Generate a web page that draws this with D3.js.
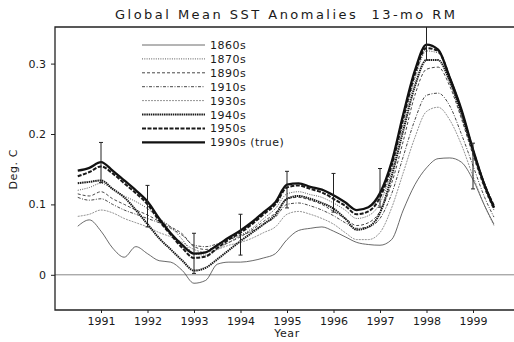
<!DOCTYPE html>
<html lang="en">
<head>
<meta charset="UTF-8">
<title>Global Mean SST Anomalies 13-mo RM</title>
<script src="https://d3js.org/d3.v7.min.js"></script>
<style>
    body { margin: 0; background: #fff; }
    svg text { font-family: 'DejaVu Sans', sans-serif; fill: #1a1a1a; white-space: pre; }
    .tick text { font-size: 11px; }
    .tick line { stroke: #222; }
</style>
</head>
<body>
<svg id="chart" width="514" height="342"></svg>
<script>
// time axis of the running means (quarter-year samples)
const years = [1990.5, 1990.75, 1991, 1991.25, 1991.5, 1991.75, 1992, 1992.25, 1992.5, 1992.75,
    1993, 1993.25, 1993.5, 1993.75, 1994, 1994.25, 1994.5, 1994.75, 1995, 1995.25,
    1995.5, 1995.75, 1996, 1996.25, 1996.5, 1996.75, 1997, 1997.25, 1997.5, 1997.75,
    1998, 1998.25, 1998.5, 1998.75, 1999, 1999.25, 1999.45];

const s1860 = [.069, .078, .062, .038, .025, .040, .030, .020, .018, .006,
    -.012, -.008, .015, .018, .018, .020, .024, .030, .050, .063,
    .066, .068, .062, .054, .046, .043, .042, .050, .092, .128,
    .152, .165, .166, .160, .135, .098, .072];
const s1870 = [.120, .124, .130, .122, .112, .104, .094, .080, .068, .050,
    .030, .028, .036, .046, .056, .066, .080, .094, .115, .118,
    .114, .110, .102, .092, .080, .084, .102, .148, .215, .278,
    .318, .315, .280, .232, .178, .128, .097];
const s1890 = [.115, .112, .118, .108, .100, .092, .085, .076, .068, .058,
    .040, .036, .040, .046, .054, .064, .076, .088, .108, .110,
    .106, .100, .090, .080, .070, .074, .090, .130, .190, .255,
    .292, .295, .268, .222, .170, .122, .092];
const s1910 = [.110, .106, .108, .100, .092, .086, .080, .074, .066, .056,
    .042, .040, .044, .050, .056, .062, .072, .082, .100, .102,
    .098, .092, .084, .074, .066, .068, .080, .115, .168, .220,
    .255, .258, .240, .200, .155, .110, .082];
const s1930 = [.083, .086, .092, .088, .080, .074, .068, .060, .054, .046,
    .036, .032, .036, .042, .046, .052, .060, .068, .086, .090,
    .086, .080, .072, .060, .050, .050, .060, .095, .145, .195,
    .232, .238, .220, .185, .140, .098, .070];
const s1940 = [.130, .132, .134, .122, .110, .092, .072, .052, .036, .020,
    .006, .010, .022, .035, .048, .060, .072, .085, .108, .112,
    .108, .102, .094, .080, .064, .068, .088, .140, .205, .268,
    .305, .305, .275, .228, .175, .127, .095];
const s1950 = [.140, .146, .154, .144, .130, .116, .100, .077, .057, .038,
    .024, .026, .038, .050, .060, .072, .086, .100, .124, .127,
    .122, .117, .108, .098, .086, .090, .110, .155, .222, .285,
    .322, .318, .280, .233, .177, .128, .098];
const s1990 = [.148, .152, .160, .148, .134, .120, .104, .080, .059, .042,
    .030, .032, .042, .053, .063, .075, .089, .103, .128, .130,
    .125, .121, .113, .103, .092, .096, .116, .160, .228, .290,
    .327, .320, .280, .235, .178, .127, .096];

// uncertainty bars on the true series
const barYears = [1991, 1992, 1993, 1994, 1995, 1996, 1997, 1998, 1999];
const barLow = [.131, .068, .002, .028, .095, .089, .096, .305, .122];
const barHigh = [.188, .127, .059, .086, .147, .144, .151, .360, .187];

const legendNames = ["1860s", "1870s", "1890s", "1910s", "1930s", "1940s", "1950s", "1990s (true)"];
const xTicks = [1991, 1992, 1993, 1994, 1995, 1996, 1997, 1998, 1999];
const yTicks = [0, 0.1, 0.2, 0.3];

const series = [
    { name: legendNames[0], values: s1860, width: 0.8, dash: null, color: "#444" },
    { name: legendNames[1], values: s1870, width: 0.9, dash: "1,1.3", color: "#444" },
    { name: legendNames[2], values: s1890, width: 0.9, dash: "3,2", color: "#333" },
    { name: legendNames[3], values: s1910, width: 0.9, dash: "3,1.5,1,1.5", color: "#333" },
    { name: legendNames[4], values: s1930, width: 0.7, dash: "2,1", color: "#666" },
    { name: legendNames[5], values: s1940, width: 2, dash: "1.5,0.7", color: "#1a1a1a" },
    { name: legendNames[6], values: s1950, width: 2, dash: "4,1.5", color: "#1a1a1a" },
    { name: legendNames[7], values: s1990, width: 2.3, dash: null, color: "#111" }
];

const svg = d3.select("#chart");
const plotLeft = 55, plotTop = 27, plotBottom = 310;

const x = d3.scaleLinear().domain([1990, 2000]).range([54.5, 519.5]);
const y = d3.scaleLinear().domain([-0.05, 0.352]).range([plotBottom, plotTop]);

// title and axis labels
svg.append("text")
    .attr("x", 285).attr("y", 19)
    .attr("text-anchor", "middle")
    .attr("font-size", 13)
    .attr("textLength", 340).attr("lengthAdjust", "spacing")
    .text("Global Mean SST Anomalies  13-mo RM");

svg.append("text")
    .attr("transform", `translate(17, ${y(0.15)}) rotate(-90)`)
    .attr("text-anchor", "middle")
    .attr("font-size", 11)
    .attr("letter-spacing", 0.6)
    .text("Deg. C");

svg.append("text")
    .attr("x", x(1995)).attr("y", 337)
    .attr("text-anchor", "middle")
    .attr("font-size", 11)
    .attr("letter-spacing", 0.6)
    .text("Year");

// zero line
svg.append("line")
    .attr("x1", plotLeft).attr("x2", 514)
    .attr("y1", y(0)).attr("y2", y(0))
    .attr("stroke", "#888").attr("stroke-width", 1);

// axes
const yAxis = svg.append("g")
    .attr("transform", `translate(${plotLeft},0)`)
    .call(d3.axisLeft(y).tickValues(yTicks).tickSize(4).tickPadding(5)
        .tickFormat(d => d === 0 ? "0" : d3.format(".1f")(d)));
yAxis.select(".domain").remove();

const xAxis = svg.append("g")
    .attr("transform", `translate(0,${plotBottom})`)
    .call(d3.axisBottom(x).tickValues(xTicks).tickSize(3).tickPadding(4).tickFormat(d3.format("d")));
xAxis.select(".domain").remove();

// frame: left, bottom, top
svg.append("path")
    .attr("d", `M514,${plotTop}H${plotLeft}V${plotBottom}H514`)
    .attr("fill", "none").attr("stroke", "#222").attr("stroke-width", 1.3);

// curves
const line = d3.line()
    .x((d, i) => x(years[i]))
    .y(d => y(d))
    .curve(d3.curveMonotoneX);

svg.append("g").selectAll("path")
    .data(series)
    .join("path")
    .attr("d", d => line(d.values))
    .attr("fill", "none")
    .attr("stroke", d => d.color)
    .attr("stroke-width", d => d.width)
    .attr("stroke-dasharray", d => d.dash);

// error bars
const bars = svg.append("g").attr("stroke", "#222").attr("stroke-width", 1);
barYears.forEach((yr, i) => {
    const bx = x(yr);
    bars.append("line").attr("x1", bx).attr("x2", bx)
        .attr("y1", y(barLow[i])).attr("y2", Math.max(y(barHigh[i]), plotTop));
    bars.append("line").attr("x1", bx - 2).attr("x2", bx + 2)
        .attr("y1", y(barLow[i])).attr("y2", y(barLow[i]));
    if (y(barHigh[i]) > plotTop) {
        bars.append("line").attr("x1", bx - 2).attr("x2", bx + 2)
            .attr("y1", y(barHigh[i])).attr("y2", y(barHigh[i]));
    }
});

// legend
const legend = svg.append("g");
series.forEach((s, i) => {
    const ly = 45 + i * 13.9;
    legend.append("line")
        .attr("x1", 142).attr("x2", 205)
        .attr("y1", ly).attr("y2", ly)
        .attr("stroke", s.color)
        .attr("stroke-width", s.width)
        .attr("stroke-dasharray", s.dash);
    legend.append("text")
        .attr("x", 210).attr("y", ly + 4)
        .attr("font-size", 11)
        .attr("letter-spacing", 0.5)
        .text(s.name);
});
</script>
</body>
</html>
